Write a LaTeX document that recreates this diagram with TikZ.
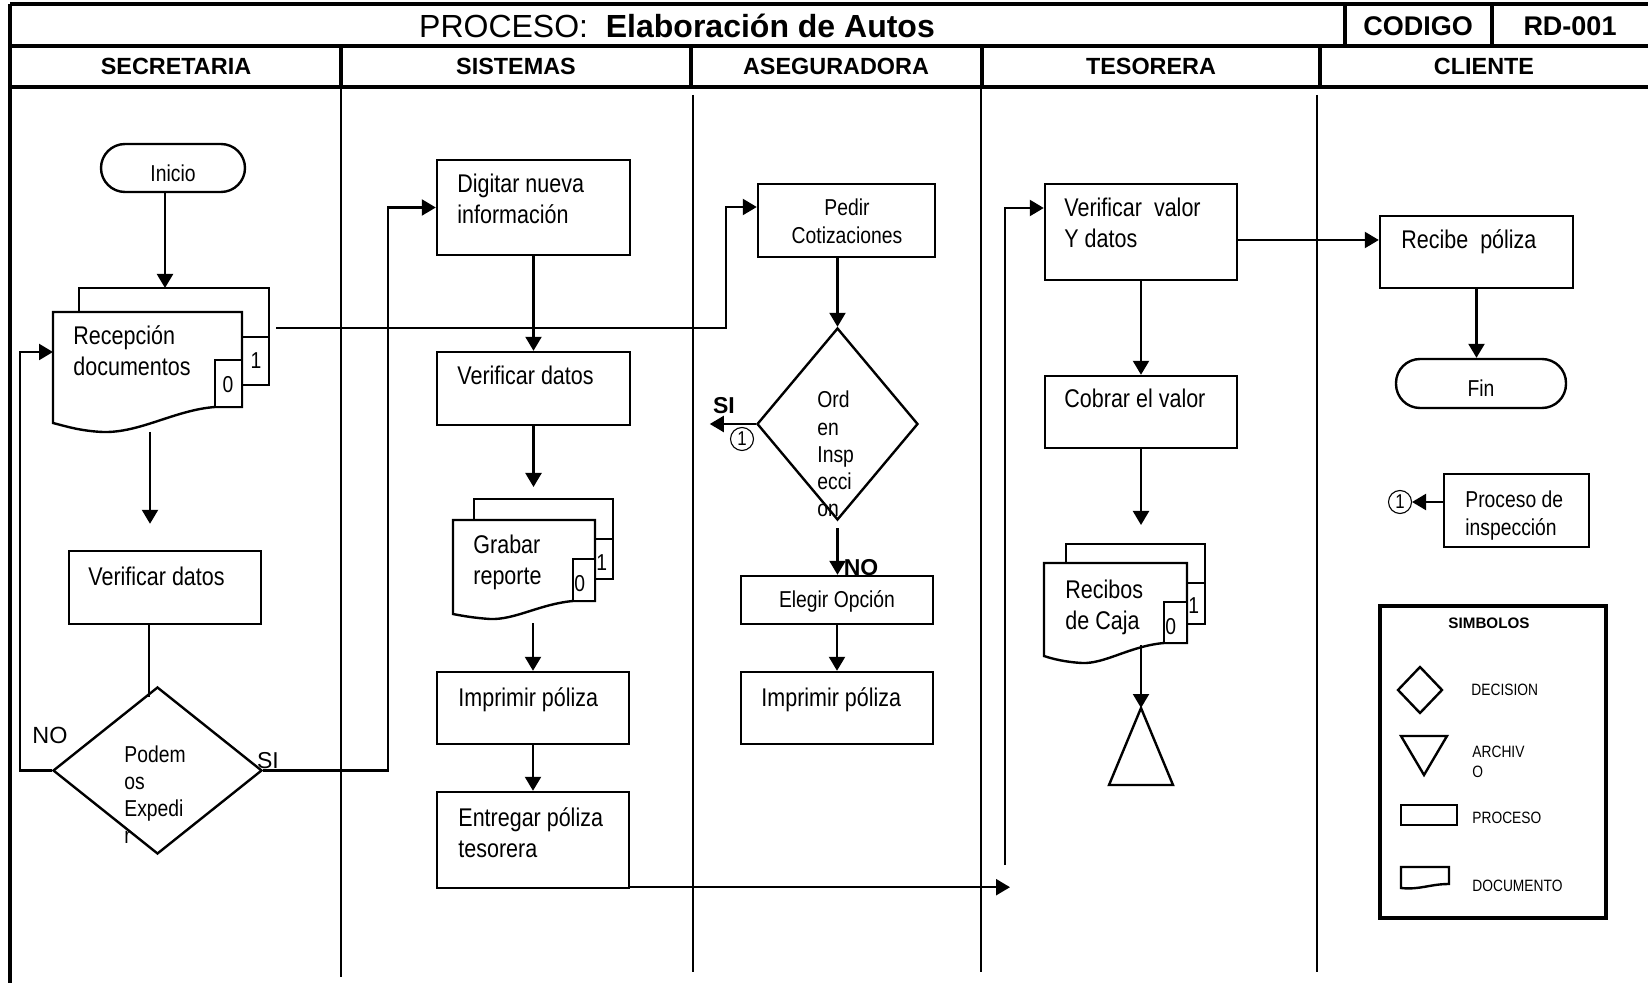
\documentclass[tikz,border=0pt]{standalone}
\usepackage{fontspec}
\setmainfont{Liberation Sans}
\newfontfamily\fnar{Liberation Sans}[FakeStretch=0.84]
\usetikzlibrary{arrows.meta,fit,shapes.geometric}
\newcommand\fbx{\fnar\fontsize{12.8}{15.5}\selectfont}
\newcommand\fsm{\fnar\fontsize{11.5}{13.6}\selectfont}
\newcommand\fhd{\bfseries\fontsize{11.7}{14}\selectfont}
\newcommand\flg{\fnar\fontsize{8.2}{10}\selectfont}
\newcommand\mlines[1]{\begin{tabular}[t]{@{}l@{}}#1\end{tabular}}
\newcommand\mcent[1]{\begin{tabular}[t]{@{}c@{}}#1\end{tabular}}
\begin{document}
\begin{tikzpicture}[x=0.5pt,y=-0.5pt,
  frame/.style={line width=1.6pt},
  lane/.style={line width=1.1pt},
  pbox/.style={draw,line width=1.2pt,inner sep=0pt},
  anch/.style={inner sep=0pt,outer sep=0pt},
  shp/.style={line width=1.2pt,fill=white},
  conn/.style={line width=1.1pt},
  arr/.style={conn,-{Triangle[length=7pt,width=8pt]}},
  txt/.style={inner sep=0pt,anchor=base west,font=\fbx},
  stxt/.style={inner sep=0pt,anchor=base west,font=\fsm},
  ctxt/.style={inner sep=0pt,anchor=base,font=\fsm},
  hd/.style={inner sep=0pt,font=\fhd},
  lg/.style={inner sep=0pt,anchor=west,font=\flg},
  circ/.style={circle,draw,line width=0.55pt,minimum size=11.5pt,inner sep=0pt,font=\fnar\fontsize{10}{11}\selectfont}]
\useasboundingbox (0,0) rectangle (1648,983);
% ---------- frame ----------
\draw[frame] (10,4) -- (1648,4);
\draw[frame] (10,46) -- (1648,46);
\draw[frame] (10,87) -- (1648,87);
\draw[frame] (10,4) -- (10,983);
\draw[frame] (1345,4) -- (1345,46);
\draw[frame] (1492,4) -- (1492,46);
\draw[frame] (341,46) -- (341,87);
\draw[frame] (691,46) -- (691,87);
\draw[frame] (982,46) -- (982,87);
\draw[frame] (1320,46) -- (1320,87);
\draw[lane] (341,89) -- (341,977);
\draw[lane] (693,95) -- (693,972);
\draw[lane] (981,89) -- (981,972);
\draw[lane] (1317,95) -- (1317,972);
\node[inner sep=0pt,font=\fontsize{16}{18}\selectfont] (title) at (677,26) {PROCESO:\ \ \textbf{Elaboración de Autos}};
\node[inner sep=0pt,font=\bfseries\fontsize{13.5}{16}\selectfont] (cod) at (1418,26) {CODIGO};
\node[inner sep=0pt,font=\bfseries\fontsize{13.5}{16}\selectfont] (rd) at (1570,26) {RD-001};
\node[hd] (h1) at (176,66) {SECRETARIA};
\node[hd] (h2) at (516,66) {SISTEMAS};
\node[hd] (h3) at (836,66) {ASEGURADORA};
\node[hd] (h4) at (1151,66) {TESORERA};
\node[hd] (h5) at (1484,66) {CLIENTE};
% ---------- SECRETARIA ----------
\node[pbox,rounded corners=12pt,fit={(101,144) (245,192)}] (ini) {};
\node[ctxt] (ini-t) at (173,182) {Inicio};
% Recepcion multi-document
\draw[shp] (79,288) rectangle (269,385);
\draw[shp] (242,337) rectangle (269,385);
\draw[shp] (53,312) -- (242,312) -- (242,407) -- (215,407) .. controls (175,410) and (140,433) .. (103,432) .. controls (80,431) and (65,426) .. (53,423) -- cycle;
\draw[shp] (215,360) rectangle (242,407);
\node[anch,fit={(79,288) (269,385)}] (recb) {};
\node[anch,fit={(53,312) (242,423)}] (recf) {};
\node[inner sep=0pt,font=\fsm] (rec1) at (256,361) {1};
\node[inner sep=0pt,font=\fsm] (rec0) at (228,385) {0};
\node[txt] (rec-t) at (73,345) {\mlines{Recepción\\documentos}};
\node[pbox,fit={(69,551) (261,624)}] (vd1) {};
\node[txt] (vd1-t) at (88,585) {Verificar datos};
\node[draw,diamond,line width=1.2pt,inner sep=0pt,minimum width=104.5pt,minimum height=83.5pt] (pd) at (157.5,770.5) {};
\node[stxt] (pd-t) at (124,762) {\mlines{Podem\\os\\Expedi\\r}};
\node[inner sep=0pt,font=\fontsize{11.7}{14}\selectfont] (no1) at (50,735) {NO};
\node[inner sep=0pt,font=\fontsize{11.5}{14}\selectfont] (si1) at (268,761) {SI};
% ---------- SISTEMAS ----------
\node[pbox,fit={(437,160) (630,255)}] (dig) {};
\node[txt] (dig-t) at (457,193) {\mlines{Digitar nueva\\información}};
\node[pbox,fit={(437,352) (630,425)}] (vd2) {};
\node[txt] (vd2-t) at (457,385) {Verificar datos};
\draw[shp] (474,499) rectangle (613,579);
\draw[shp] (595,539) rectangle (613,579);
\draw[shp] (453,520) -- (595,520) -- (595,601) -- (573,601) .. controls (540,604) and (515,620) .. (490,619) .. controls (475,618) and (463,616) .. (453,614) -- cycle;
\draw[shp] (573,559) rectangle (595,601);
\node[anch,fit={(474,499) (613,579)}] (grbb) {};
\node[anch,fit={(453,520) (595,614)}] (grbf) {};
\node[inner sep=0pt,anchor=west,font=\fsm] (grb1) at (596,563) {1};
\node[inner sep=0pt,anchor=west,font=\fsm] (grb0) at (574,584) {0};
\node[txt] (grb-t) at (473,553) {\mlines{Grabar\\reporte}};
\node[pbox,fit={(437,672) (629,744)}] (imp1) {};
\node[txt] (imp1-t) at (458,706) {Imprimir póliza};
\node[pbox,fit={(437,792) (629,888)}] (ent) {};
\node[txt] (ent-t) at (458,826) {\mlines{Entregar póliza\\tesorera}};
% ---------- ASEGURADORA ----------
\node[pbox,fit={(758,184) (935,257)}] (ped) {};
\node[ctxt] (ped-t) at (847,216) {\mcent{Pedir\\Cotizaciones}};
\node[draw,diamond,line width=1.2pt,inner sep=0pt,minimum width=80.5pt,minimum height=96pt] (od) at (837.5,424) {};
\node[stxt] (od-t) at (817,408) {\mlines{Ord\\en\\Insp\\ecci\\on}};
\node[inner sep=0pt,font=\bfseries\fontsize{11.5}{14}\selectfont] (si2) at (724,406) {SI};
\node[circ] (c1) at (742,439) {1};
\node[inner sep=0pt,font=\bfseries\fontsize{11.5}{14}\selectfont] (no2) at (861,568) {NO};
\node[pbox,fit={(741,576) (933,624)}] (ele) {};
\node[ctxt] (ele-t) at (837,607) {Elegir Opción};
\node[pbox,fit={(741,672) (933,744)}] (imp2) {};
\node[txt] (imp2-t) at (761,706) {Imprimir póliza};
% ---------- TESORERA ----------
\node[pbox,fit={(1045,184) (1237,280)}] (vv) {};
\node[txt] (vv-t) at (1064,217) {\mlines{Verificar~ valor\\Y datos}};
\node[pbox,fit={(1045,376) (1237,448)}] (cob) {};
\node[txt] (cob-t) at (1064,408) {Cobrar el valor};
\draw[shp] (1066,544) rectangle (1205,624);
\draw[shp] (1187,583) rectangle (1205,624);
\draw[shp] (1044,563) -- (1187,563) -- (1187,643) -- (1164,643) .. controls (1130,646) and (1105,664) .. (1082,663) .. controls (1065,662) and (1053,659) .. (1044,656) -- cycle;
\draw[shp] (1164,602) rectangle (1187,643);
\node[anch,fit={(1066,544) (1205,624)}] (rcjb) {};
\node[anch,fit={(1044,563) (1187,656)}] (rcjf) {};
\node[inner sep=0pt,anchor=west,font=\fsm] (rcj1) at (1188,606) {1};
\node[inner sep=0pt,anchor=west,font=\fsm] (rcj0) at (1165,627) {0};
\node[txt] (rcj-t) at (1065,598) {\mlines{Recibos\\de Caja}};
\coordinate (arch) at (1141,708);
\draw[line width=1.2pt] (arch) -- (1173,785) -- (1109,785) -- cycle;
% ---------- CLIENTE ----------
\node[pbox,fit={(1380,216) (1573,288)}] (rcp) {};
\node[txt] (rcp-t) at (1401,249) {Recibe~ póliza};
\node[pbox,rounded corners=12pt,fit={(1396,359) (1566,408)}] (fin) {};
\node[ctxt] (fin-t) at (1481,397) {Fin};
\node[pbox,fit={(1444,474) (1589,547)}] (pins) {};
\node[stxt] (pins-t) at (1465,508) {\mlines{Proceso de\\inspección}};
\node[circ] (c2) at (1400,502) {1};
% legend
\node[draw,line width=2.2pt,inner sep=0pt,fit={(1380,606) (1606,918)}] (leg) {};
\node[inner sep=0pt,font=\bfseries\fontsize{7.6}{9}\selectfont] (leg-t) at (1489,623) {SIMBOLOS};
\draw[line width=1.2pt] (1420,667) -- (1442,690) -- (1420,713) -- (1398,690) -- cycle;
\node[lg] (lg1) at (1471,690) {DECISION};
\draw[line width=1.2pt] (1401,736) -- (1447,736) -- (1424,775) -- cycle;
\node[inner sep=0pt,anchor=base west,font=\flg] (lg2) at (1472,757) {\mlines{ARCHIV\\O}};
\draw[line width=1.2pt] (1401,805) rectangle (1457,825);
\node[lg] (lg3) at (1472,818) {PROCESO};
\draw[line width=1.2pt] (1401,867) -- (1449,867) -- (1449,884) .. controls (1430,884) and (1420,890) .. (1401,888) -- cycle;
\node[lg] (lg4) at (1472,886) {DOCUMENTO};
% ---------- connectors ----------
\draw[arr] ([xshift=-4pt]ini.south) -- ([xshift=-4pt]ini.south |- recb.north);
\draw[arr] ([xshift=-7.5pt,yshift=-4.5pt]vd1.north |- recf.south) -- ([xshift=-7.5pt,yshift=13pt]vd1.north);
\draw[conn] ([xshift=-8pt]vd1.south) -- ++(0,72);
\draw[arr] (pd.west) -- ++(-32,0) |- ([yshift=7.75pt]recf.west);
\draw[arr] (pd.east) -- ++(125,0) |- (dig.west);
\draw[arr] (dig.south) -- (vd2.north);
\draw[arr] (vd2.south) -- ([yshift=6pt]vd2.south |- grbb.north);
\draw[arr] ([yshift=-4.5pt]imp1.north |- grbf.south) -- (imp1.north);
\draw[arr] (imp1.south) -- (ent.north);
\coordinate (tesend) at (1010,886);
\draw[arr] ([yshift=1pt]ent.south east) -- ([yshift=1pt]ent.south east -| tesend);
\draw[arr] ([xshift=3.5pt,yshift=4.25pt]recb.east) -- ++(450,0) |- ([yshift=6.75pt]ped.west);
\draw[arr] (od.north |- ped.south) -- (od.north);
\draw[arr] (od.west) -- ++(-46,0);
\draw[arr] ([yshift=-3.5pt]od.south) -- (od.south |- ele.north);
\draw[arr] (ele.south) -- (imp2.north);
\coordinate (tesin) at (1005,865);
\draw[arr] (tesin) |- ([yshift=12pt]vv.west);
\draw[arr] ([yshift=-4pt]vv.east) -- ([yshift=-4pt]vv.east -| rcp.west);
\draw[arr] (vv.south) -- (cob.north);
\draw[arr] (cob.south) -- ([yshift=9.5pt]cob.south |- rcjb.north);
\draw[arr] ([yshift=5.5pt]arch |- rcjf.south) -- (arch);
\draw[arr] (rcp.south) -- (rcp.south |- fin.north);
\draw[arr] (c2.east -| pins.west) -- (c2.east);
\end{tikzpicture}
\end{document}
